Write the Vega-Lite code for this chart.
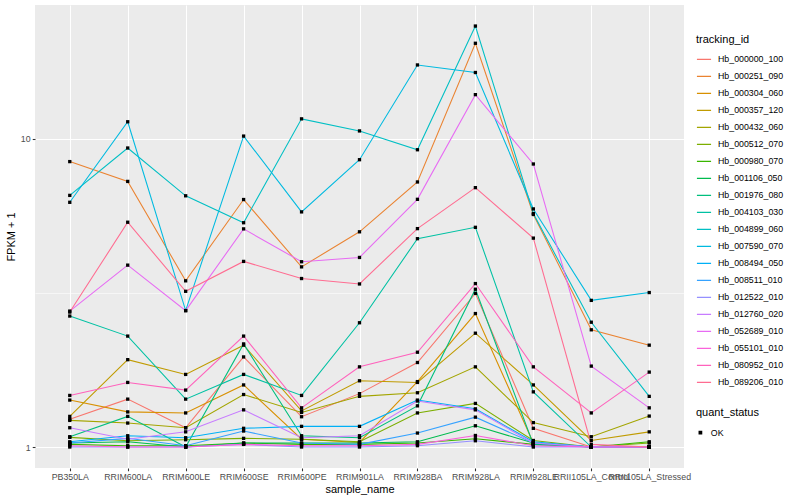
{
  "$schema": "https://vega.github.io/schema/vega-lite/v6.json",
  "width": 649,
  "height": 463,
  "autosize": {"type": "none"},
  "padding": {"left": 35, "top": 5, "right": 116, "bottom": 32},
  "background": "white",
  "config": {
    "font": "Liberation Sans",
    "view": {"fill": "#EBEBEB", "stroke": null},
    "axis": {"domain": false, "labelColor": "#4D4D4D", "labelFontSize": 8.8, "tickColor": "#333333", "tickSize": 2.75, "tickWidth": 1.07, "gridColor": "#FFFFFF", "titleFontSize": 11, "titleFontWeight": "normal", "titleColor": "#000000", "labelPadding": 2.2},
    "legend": {"titleFontSize": 11, "titleFontWeight": "normal", "labelFontSize": 8.8, "labelColor": "#000000", "titleColor": "#000000"}
  },
  "data": {"values": [
    {"tracking_id":"Hb_000000_100","sample_name":"PB350LA","FPKM":1.23,"quant_status":"OK"},
    {"tracking_id":"Hb_000000_100","sample_name":"RRIM600LA","FPKM":1.43,"quant_status":"OK"},
    {"tracking_id":"Hb_000000_100","sample_name":"RRIM600LE","FPKM":1.155,"quant_status":"OK"},
    {"tracking_id":"Hb_000000_100","sample_name":"RRIM600SE","FPKM":1.96,"quant_status":"OK"},
    {"tracking_id":"Hb_000000_100","sample_name":"RRIM600PE","FPKM":1.254,"quant_status":"OK"},
    {"tracking_id":"Hb_000000_100","sample_name":"RRIM901LA","FPKM":1.49,"quant_status":"OK"},
    {"tracking_id":"Hb_000000_100","sample_name":"RRIM928BA","FPKM":1.88,"quant_status":"OK"},
    {"tracking_id":"Hb_000000_100","sample_name":"RRIM928LA","FPKM":3.15,"quant_status":"OK"},
    {"tracking_id":"Hb_000000_100","sample_name":"RRIM928LE","FPKM":1.15,"quant_status":"OK"},
    {"tracking_id":"Hb_000000_100","sample_name":"RRII105LA_Control","FPKM":1.0,"quant_status":"OK"},
    {"tracking_id":"Hb_000000_100","sample_name":"RRII105LA_Stressed","FPKM":1.0,"quant_status":"OK"},

    {"tracking_id":"Hb_000251_090","sample_name":"PB350LA","FPKM":8.43,"quant_status":"OK"},
    {"tracking_id":"Hb_000251_090","sample_name":"RRIM600LA","FPKM":7.27,"quant_status":"OK"},
    {"tracking_id":"Hb_000251_090","sample_name":"RRIM600LE","FPKM":3.46,"quant_status":"OK"},
    {"tracking_id":"Hb_000251_090","sample_name":"RRIM600SE","FPKM":6.35,"quant_status":"OK"},
    {"tracking_id":"Hb_000251_090","sample_name":"RRIM600PE","FPKM":3.84,"quant_status":"OK"},
    {"tracking_id":"Hb_000251_090","sample_name":"RRIM901LA","FPKM":4.99,"quant_status":"OK"},
    {"tracking_id":"Hb_000251_090","sample_name":"RRIM928BA","FPKM":7.24,"quant_status":"OK"},
    {"tracking_id":"Hb_000251_090","sample_name":"RRIM928LA","FPKM":20.4,"quant_status":"OK"},
    {"tracking_id":"Hb_000251_090","sample_name":"RRIM928LE","FPKM":5.68,"quant_status":"OK"},
    {"tracking_id":"Hb_000251_090","sample_name":"RRII105LA_Control","FPKM":2.40,"quant_status":"OK"},
    {"tracking_id":"Hb_000251_090","sample_name":"RRII105LA_Stressed","FPKM":2.14,"quant_status":"OK"},

    {"tracking_id":"Hb_000304_060","sample_name":"PB350LA","FPKM":1.42,"quant_status":"OK"},
    {"tracking_id":"Hb_000304_060","sample_name":"RRIM600LA","FPKM":1.30,"quant_status":"OK"},
    {"tracking_id":"Hb_000304_060","sample_name":"RRIM600LE","FPKM":1.29,"quant_status":"OK"},
    {"tracking_id":"Hb_000304_060","sample_name":"RRIM600SE","FPKM":1.59,"quant_status":"OK"},
    {"tracking_id":"Hb_000304_060","sample_name":"RRIM600PE","FPKM":1.06,"quant_status":"OK"},
    {"tracking_id":"Hb_000304_060","sample_name":"RRIM901LA","FPKM":1.035,"quant_status":"OK"},
    {"tracking_id":"Hb_000304_060","sample_name":"RRIM928BA","FPKM":1.63,"quant_status":"OK"},
    {"tracking_id":"Hb_000304_060","sample_name":"RRIM928LA","FPKM":2.71,"quant_status":"OK"},
    {"tracking_id":"Hb_000304_060","sample_name":"RRIM928LE","FPKM":1.03,"quant_status":"OK"},
    {"tracking_id":"Hb_000304_060","sample_name":"RRII105LA_Control","FPKM":1.0,"quant_status":"OK"},
    {"tracking_id":"Hb_000304_060","sample_name":"RRII105LA_Stressed","FPKM":1.0,"quant_status":"OK"},

    {"tracking_id":"Hb_000357_120","sample_name":"PB350LA","FPKM":1.257,"quant_status":"OK"},
    {"tracking_id":"Hb_000357_120","sample_name":"RRIM600LA","FPKM":1.92,"quant_status":"OK"},
    {"tracking_id":"Hb_000357_120","sample_name":"RRIM600LE","FPKM":1.72,"quant_status":"OK"},
    {"tracking_id":"Hb_000357_120","sample_name":"RRIM600SE","FPKM":2.14,"quant_status":"OK"},
    {"tracking_id":"Hb_000357_120","sample_name":"RRIM600PE","FPKM":1.31,"quant_status":"OK"},
    {"tracking_id":"Hb_000357_120","sample_name":"RRIM901LA","FPKM":1.64,"quant_status":"OK"},
    {"tracking_id":"Hb_000357_120","sample_name":"RRIM928BA","FPKM":1.62,"quant_status":"OK"},
    {"tracking_id":"Hb_000357_120","sample_name":"RRIM928LA","FPKM":2.34,"quant_status":"OK"},
    {"tracking_id":"Hb_000357_120","sample_name":"RRIM928LE","FPKM":1.59,"quant_status":"OK"},
    {"tracking_id":"Hb_000357_120","sample_name":"RRII105LA_Control","FPKM":1.05,"quant_status":"OK"},
    {"tracking_id":"Hb_000357_120","sample_name":"RRII105LA_Stressed","FPKM":1.12,"quant_status":"OK"},

    {"tracking_id":"Hb_000432_060","sample_name":"PB350LA","FPKM":1.22,"quant_status":"OK"},
    {"tracking_id":"Hb_000432_060","sample_name":"RRIM600LA","FPKM":1.196,"quant_status":"OK"},
    {"tracking_id":"Hb_000432_060","sample_name":"RRIM600LE","FPKM":1.155,"quant_status":"OK"},
    {"tracking_id":"Hb_000432_060","sample_name":"RRIM600SE","FPKM":1.48,"quant_status":"OK"},
    {"tracking_id":"Hb_000432_060","sample_name":"RRIM600PE","FPKM":1.295,"quant_status":"OK"},
    {"tracking_id":"Hb_000432_060","sample_name":"RRIM901LA","FPKM":1.46,"quant_status":"OK"},
    {"tracking_id":"Hb_000432_060","sample_name":"RRIM928BA","FPKM":1.50,"quant_status":"OK"},
    {"tracking_id":"Hb_000432_060","sample_name":"RRIM928LA","FPKM":1.82,"quant_status":"OK"},
    {"tracking_id":"Hb_000432_060","sample_name":"RRIM928LE","FPKM":1.2,"quant_status":"OK"},
    {"tracking_id":"Hb_000432_060","sample_name":"RRII105LA_Control","FPKM":1.08,"quant_status":"OK"},
    {"tracking_id":"Hb_000432_060","sample_name":"RRII105LA_Stressed","FPKM":1.26,"quant_status":"OK"},

    {"tracking_id":"Hb_000512_070","sample_name":"PB350LA","FPKM":1.075,"quant_status":"OK"},
    {"tracking_id":"Hb_000512_070","sample_name":"RRIM600LA","FPKM":1.048,"quant_status":"OK"},
    {"tracking_id":"Hb_000512_070","sample_name":"RRIM600LE","FPKM":1.056,"quant_status":"OK"},
    {"tracking_id":"Hb_000512_070","sample_name":"RRIM600SE","FPKM":1.067,"quant_status":"OK"},
    {"tracking_id":"Hb_000512_070","sample_name":"RRIM600PE","FPKM":1.06,"quant_status":"OK"},
    {"tracking_id":"Hb_000512_070","sample_name":"RRIM901LA","FPKM":1.04,"quant_status":"OK"},
    {"tracking_id":"Hb_000512_070","sample_name":"RRIM928BA","FPKM":1.29,"quant_status":"OK"},
    {"tracking_id":"Hb_000512_070","sample_name":"RRIM928LA","FPKM":1.385,"quant_status":"OK"},
    {"tracking_id":"Hb_000512_070","sample_name":"RRIM928LE","FPKM":1.05,"quant_status":"OK"},
    {"tracking_id":"Hb_000512_070","sample_name":"RRII105LA_Control","FPKM":1.0,"quant_status":"OK"},
    {"tracking_id":"Hb_000512_070","sample_name":"RRII105LA_Stressed","FPKM":1.03,"quant_status":"OK"},

    {"tracking_id":"Hb_000980_070","sample_name":"PB350LA","FPKM":1.02,"quant_status":"OK"},
    {"tracking_id":"Hb_000980_070","sample_name":"RRIM600LA","FPKM":1.01,"quant_status":"OK"},
    {"tracking_id":"Hb_000980_070","sample_name":"RRIM600LE","FPKM":1.01,"quant_status":"OK"},
    {"tracking_id":"Hb_000980_070","sample_name":"RRIM600SE","FPKM":1.03,"quant_status":"OK"},
    {"tracking_id":"Hb_000980_070","sample_name":"RRIM600PE","FPKM":1.02,"quant_status":"OK"},
    {"tracking_id":"Hb_000980_070","sample_name":"RRIM901LA","FPKM":1.02,"quant_status":"OK"},
    {"tracking_id":"Hb_000980_070","sample_name":"RRIM928BA","FPKM":1.03,"quant_status":"OK"},
    {"tracking_id":"Hb_000980_070","sample_name":"RRIM928LA","FPKM":1.064,"quant_status":"OK"},
    {"tracking_id":"Hb_000980_070","sample_name":"RRIM928LE","FPKM":1.02,"quant_status":"OK"},
    {"tracking_id":"Hb_000980_070","sample_name":"RRII105LA_Control","FPKM":1.0,"quant_status":"OK"},
    {"tracking_id":"Hb_000980_070","sample_name":"RRII105LA_Stressed","FPKM":1.04,"quant_status":"OK"},

    {"tracking_id":"Hb_001106_050","sample_name":"PB350LA","FPKM":1.03,"quant_status":"OK"},
    {"tracking_id":"Hb_001106_050","sample_name":"RRIM600LA","FPKM":1.04,"quant_status":"OK"},
    {"tracking_id":"Hb_001106_050","sample_name":"RRIM600LE","FPKM":1.0,"quant_status":"OK"},
    {"tracking_id":"Hb_001106_050","sample_name":"RRIM600SE","FPKM":1.03,"quant_status":"OK"},
    {"tracking_id":"Hb_001106_050","sample_name":"RRIM600PE","FPKM":1.03,"quant_status":"OK"},
    {"tracking_id":"Hb_001106_050","sample_name":"RRIM901LA","FPKM":1.03,"quant_status":"OK"},
    {"tracking_id":"Hb_001106_050","sample_name":"RRIM928BA","FPKM":1.04,"quant_status":"OK"},
    {"tracking_id":"Hb_001106_050","sample_name":"RRIM928LA","FPKM":1.172,"quant_status":"OK"},
    {"tracking_id":"Hb_001106_050","sample_name":"RRIM928LE","FPKM":1.03,"quant_status":"OK"},
    {"tracking_id":"Hb_001106_050","sample_name":"RRII105LA_Control","FPKM":1.0,"quant_status":"OK"},
    {"tracking_id":"Hb_001106_050","sample_name":"RRII105LA_Stressed","FPKM":1.0,"quant_status":"OK"},

    {"tracking_id":"Hb_001976_080","sample_name":"PB350LA","FPKM":1.08,"quant_status":"OK"},
    {"tracking_id":"Hb_001976_080","sample_name":"RRIM600LA","FPKM":1.257,"quant_status":"OK"},
    {"tracking_id":"Hb_001976_080","sample_name":"RRIM600LE","FPKM":1.0,"quant_status":"OK"},
    {"tracking_id":"Hb_001976_080","sample_name":"RRIM600SE","FPKM":2.16,"quant_status":"OK"},
    {"tracking_id":"Hb_001976_080","sample_name":"RRIM600PE","FPKM":1.088,"quant_status":"OK"},
    {"tracking_id":"Hb_001976_080","sample_name":"RRIM901LA","FPKM":1.072,"quant_status":"OK"},
    {"tracking_id":"Hb_001976_080","sample_name":"RRIM928BA","FPKM":1.36,"quant_status":"OK"},
    {"tracking_id":"Hb_001976_080","sample_name":"RRIM928LA","FPKM":3.25,"quant_status":"OK"},
    {"tracking_id":"Hb_001976_080","sample_name":"RRIM928LE","FPKM":1.02,"quant_status":"OK"},
    {"tracking_id":"Hb_001976_080","sample_name":"RRII105LA_Control","FPKM":1.0,"quant_status":"OK"},
    {"tracking_id":"Hb_001976_080","sample_name":"RRII105LA_Stressed","FPKM":1.0,"quant_status":"OK"},

    {"tracking_id":"Hb_004103_030","sample_name":"PB350LA","FPKM":2.66,"quant_status":"OK"},
    {"tracking_id":"Hb_004103_030","sample_name":"RRIM600LA","FPKM":2.29,"quant_status":"OK"},
    {"tracking_id":"Hb_004103_030","sample_name":"RRIM600LE","FPKM":1.43,"quant_status":"OK"},
    {"tracking_id":"Hb_004103_030","sample_name":"RRIM600SE","FPKM":1.72,"quant_status":"OK"},
    {"tracking_id":"Hb_004103_030","sample_name":"RRIM600PE","FPKM":1.47,"quant_status":"OK"},
    {"tracking_id":"Hb_004103_030","sample_name":"RRIM901LA","FPKM":2.53,"quant_status":"OK"},
    {"tracking_id":"Hb_004103_030","sample_name":"RRIM928BA","FPKM":4.74,"quant_status":"OK"},
    {"tracking_id":"Hb_004103_030","sample_name":"RRIM928LA","FPKM":5.16,"quant_status":"OK"},
    {"tracking_id":"Hb_004103_030","sample_name":"RRIM928LE","FPKM":1.51,"quant_status":"OK"},
    {"tracking_id":"Hb_004103_030","sample_name":"RRII105LA_Control","FPKM":1.0,"quant_status":"OK"},
    {"tracking_id":"Hb_004103_030","sample_name":"RRII105LA_Stressed","FPKM":1.0,"quant_status":"OK"},

    {"tracking_id":"Hb_004899_060","sample_name":"PB350LA","FPKM":6.55,"quant_status":"OK"},
    {"tracking_id":"Hb_004899_060","sample_name":"RRIM600LA","FPKM":9.33,"quant_status":"OK"},
    {"tracking_id":"Hb_004899_060","sample_name":"RRIM600LE","FPKM":6.53,"quant_status":"OK"},
    {"tracking_id":"Hb_004899_060","sample_name":"RRIM600SE","FPKM":5.34,"quant_status":"OK"},
    {"tracking_id":"Hb_004899_060","sample_name":"RRIM600PE","FPKM":11.6,"quant_status":"OK"},
    {"tracking_id":"Hb_004899_060","sample_name":"RRIM901LA","FPKM":10.6,"quant_status":"OK"},
    {"tracking_id":"Hb_004899_060","sample_name":"RRIM928BA","FPKM":9.21,"quant_status":"OK"},
    {"tracking_id":"Hb_004899_060","sample_name":"RRIM928LA","FPKM":23.2,"quant_status":"OK"},
    {"tracking_id":"Hb_004899_060","sample_name":"RRIM928LE","FPKM":5.72,"quant_status":"OK"},
    {"tracking_id":"Hb_004899_060","sample_name":"RRII105LA_Control","FPKM":2.54,"quant_status":"OK"},
    {"tracking_id":"Hb_004899_060","sample_name":"RRII105LA_Stressed","FPKM":1.46,"quant_status":"OK"},

    {"tracking_id":"Hb_007590_070","sample_name":"PB350LA","FPKM":6.22,"quant_status":"OK"},
    {"tracking_id":"Hb_007590_070","sample_name":"RRIM600LA","FPKM":11.35,"quant_status":"OK"},
    {"tracking_id":"Hb_007590_070","sample_name":"RRIM600LE","FPKM":2.77,"quant_status":"OK"},
    {"tracking_id":"Hb_007590_070","sample_name":"RRIM600SE","FPKM":10.2,"quant_status":"OK"},
    {"tracking_id":"Hb_007590_070","sample_name":"RRIM600PE","FPKM":5.79,"quant_status":"OK"},
    {"tracking_id":"Hb_007590_070","sample_name":"RRIM901LA","FPKM":8.55,"quant_status":"OK"},
    {"tracking_id":"Hb_007590_070","sample_name":"RRIM928BA","FPKM":17.35,"quant_status":"OK"},
    {"tracking_id":"Hb_007590_070","sample_name":"RRIM928LA","FPKM":16.4,"quant_status":"OK"},
    {"tracking_id":"Hb_007590_070","sample_name":"RRIM928LE","FPKM":5.92,"quant_status":"OK"},
    {"tracking_id":"Hb_007590_070","sample_name":"RRII105LA_Control","FPKM":2.99,"quant_status":"OK"},
    {"tracking_id":"Hb_007590_070","sample_name":"RRII105LA_Stressed","FPKM":3.17,"quant_status":"OK"},

    {"tracking_id":"Hb_008494_050","sample_name":"PB350LA","FPKM":1.04,"quant_status":"OK"},
    {"tracking_id":"Hb_008494_050","sample_name":"RRIM600LA","FPKM":1.088,"quant_status":"OK"},
    {"tracking_id":"Hb_008494_050","sample_name":"RRIM600LE","FPKM":1.072,"quant_status":"OK"},
    {"tracking_id":"Hb_008494_050","sample_name":"RRIM600SE","FPKM":1.15,"quant_status":"OK"},
    {"tracking_id":"Hb_008494_050","sample_name":"RRIM600PE","FPKM":1.167,"quant_status":"OK"},
    {"tracking_id":"Hb_008494_050","sample_name":"RRIM901LA","FPKM":1.167,"quant_status":"OK"},
    {"tracking_id":"Hb_008494_050","sample_name":"RRIM928BA","FPKM":1.42,"quant_status":"OK"},
    {"tracking_id":"Hb_008494_050","sample_name":"RRIM928LA","FPKM":1.33,"quant_status":"OK"},
    {"tracking_id":"Hb_008494_050","sample_name":"RRIM928LE","FPKM":1.04,"quant_status":"OK"},
    {"tracking_id":"Hb_008494_050","sample_name":"RRII105LA_Control","FPKM":1.0,"quant_status":"OK"},
    {"tracking_id":"Hb_008494_050","sample_name":"RRII105LA_Stressed","FPKM":1.0,"quant_status":"OK"},

    {"tracking_id":"Hb_008511_010","sample_name":"PB350LA","FPKM":1.03,"quant_status":"OK"},
    {"tracking_id":"Hb_008511_010","sample_name":"RRIM600LA","FPKM":1.067,"quant_status":"OK"},
    {"tracking_id":"Hb_008511_010","sample_name":"RRIM600LE","FPKM":1.01,"quant_status":"OK"},
    {"tracking_id":"Hb_008511_010","sample_name":"RRIM600SE","FPKM":1.127,"quant_status":"OK"},
    {"tracking_id":"Hb_008511_010","sample_name":"RRIM600PE","FPKM":1.03,"quant_status":"OK"},
    {"tracking_id":"Hb_008511_010","sample_name":"RRIM901LA","FPKM":1.02,"quant_status":"OK"},
    {"tracking_id":"Hb_008511_010","sample_name":"RRIM928BA","FPKM":1.11,"quant_status":"OK"},
    {"tracking_id":"Hb_008511_010","sample_name":"RRIM928LA","FPKM":1.25,"quant_status":"OK"},
    {"tracking_id":"Hb_008511_010","sample_name":"RRIM928LE","FPKM":1.03,"quant_status":"OK"},
    {"tracking_id":"Hb_008511_010","sample_name":"RRII105LA_Control","FPKM":1.0,"quant_status":"OK"},
    {"tracking_id":"Hb_008511_010","sample_name":"RRII105LA_Stressed","FPKM":1.0,"quant_status":"OK"},

    {"tracking_id":"Hb_012522_010","sample_name":"PB350LA","FPKM":1.0,"quant_status":"OK"},
    {"tracking_id":"Hb_012522_010","sample_name":"RRIM600LA","FPKM":1.0,"quant_status":"OK"},
    {"tracking_id":"Hb_012522_010","sample_name":"RRIM600LE","FPKM":1.0,"quant_status":"OK"},
    {"tracking_id":"Hb_012522_010","sample_name":"RRIM600SE","FPKM":1.02,"quant_status":"OK"},
    {"tracking_id":"Hb_012522_010","sample_name":"RRIM600PE","FPKM":1.0,"quant_status":"OK"},
    {"tracking_id":"Hb_012522_010","sample_name":"RRIM901LA","FPKM":1.0,"quant_status":"OK"},
    {"tracking_id":"Hb_012522_010","sample_name":"RRIM928BA","FPKM":1.01,"quant_status":"OK"},
    {"tracking_id":"Hb_012522_010","sample_name":"RRIM928LA","FPKM":1.048,"quant_status":"OK"},
    {"tracking_id":"Hb_012522_010","sample_name":"RRIM928LE","FPKM":1.0,"quant_status":"OK"},
    {"tracking_id":"Hb_012522_010","sample_name":"RRII105LA_Control","FPKM":1.0,"quant_status":"OK"},
    {"tracking_id":"Hb_012522_010","sample_name":"RRII105LA_Stressed","FPKM":1.0,"quant_status":"OK"},

    {"tracking_id":"Hb_012760_020","sample_name":"PB350LA","FPKM":1.155,"quant_status":"OK"},
    {"tracking_id":"Hb_012760_020","sample_name":"RRIM600LA","FPKM":1.06,"quant_status":"OK"},
    {"tracking_id":"Hb_012760_020","sample_name":"RRIM600LE","FPKM":1.12,"quant_status":"OK"},
    {"tracking_id":"Hb_012760_020","sample_name":"RRIM600SE","FPKM":1.32,"quant_status":"OK"},
    {"tracking_id":"Hb_012760_020","sample_name":"RRIM600PE","FPKM":1.072,"quant_status":"OK"},
    {"tracking_id":"Hb_012760_020","sample_name":"RRIM901LA","FPKM":1.088,"quant_status":"OK"},
    {"tracking_id":"Hb_012760_020","sample_name":"RRIM928BA","FPKM":1.41,"quant_status":"OK"},
    {"tracking_id":"Hb_012760_020","sample_name":"RRIM928LA","FPKM":1.32,"quant_status":"OK"},
    {"tracking_id":"Hb_012760_020","sample_name":"RRIM928LE","FPKM":1.03,"quant_status":"OK"},
    {"tracking_id":"Hb_012760_020","sample_name":"RRII105LA_Control","FPKM":1.0,"quant_status":"OK"},
    {"tracking_id":"Hb_012760_020","sample_name":"RRII105LA_Stressed","FPKM":1.0,"quant_status":"OK"},

    {"tracking_id":"Hb_052689_010","sample_name":"PB350LA","FPKM":2.76,"quant_status":"OK"},
    {"tracking_id":"Hb_052689_010","sample_name":"RRIM600LA","FPKM":3.89,"quant_status":"OK"},
    {"tracking_id":"Hb_052689_010","sample_name":"RRIM600LE","FPKM":2.77,"quant_status":"OK"},
    {"tracking_id":"Hb_052689_010","sample_name":"RRIM600SE","FPKM":5.1,"quant_status":"OK"},
    {"tracking_id":"Hb_052689_010","sample_name":"RRIM600PE","FPKM":3.99,"quant_status":"OK"},
    {"tracking_id":"Hb_052689_010","sample_name":"RRIM901LA","FPKM":4.12,"quant_status":"OK"},
    {"tracking_id":"Hb_052689_010","sample_name":"RRIM928BA","FPKM":6.36,"quant_status":"OK"},
    {"tracking_id":"Hb_052689_010","sample_name":"RRIM928LA","FPKM":13.9,"quant_status":"OK"},
    {"tracking_id":"Hb_052689_010","sample_name":"RRIM928LE","FPKM":8.28,"quant_status":"OK"},
    {"tracking_id":"Hb_052689_010","sample_name":"RRII105LA_Control","FPKM":1.83,"quant_status":"OK"},
    {"tracking_id":"Hb_052689_010","sample_name":"RRII105LA_Stressed","FPKM":1.34,"quant_status":"OK"},

    {"tracking_id":"Hb_055101_010","sample_name":"PB350LA","FPKM":1.01,"quant_status":"OK"},
    {"tracking_id":"Hb_055101_010","sample_name":"RRIM600LA","FPKM":1.0,"quant_status":"OK"},
    {"tracking_id":"Hb_055101_010","sample_name":"RRIM600LE","FPKM":1.0,"quant_status":"OK"},
    {"tracking_id":"Hb_055101_010","sample_name":"RRIM600SE","FPKM":1.02,"quant_status":"OK"},
    {"tracking_id":"Hb_055101_010","sample_name":"RRIM600PE","FPKM":1.01,"quant_status":"OK"},
    {"tracking_id":"Hb_055101_010","sample_name":"RRIM901LA","FPKM":1.01,"quant_status":"OK"},
    {"tracking_id":"Hb_055101_010","sample_name":"RRIM928BA","FPKM":1.02,"quant_status":"OK"},
    {"tracking_id":"Hb_055101_010","sample_name":"RRIM928LA","FPKM":1.09,"quant_status":"OK"},
    {"tracking_id":"Hb_055101_010","sample_name":"RRIM928LE","FPKM":1.01,"quant_status":"OK"},
    {"tracking_id":"Hb_055101_010","sample_name":"RRII105LA_Control","FPKM":1.0,"quant_status":"OK"},
    {"tracking_id":"Hb_055101_010","sample_name":"RRII105LA_Stressed","FPKM":1.0,"quant_status":"OK"},

    {"tracking_id":"Hb_080952_010","sample_name":"PB350LA","FPKM":1.47,"quant_status":"OK"},
    {"tracking_id":"Hb_080952_010","sample_name":"RRIM600LA","FPKM":1.62,"quant_status":"OK"},
    {"tracking_id":"Hb_080952_010","sample_name":"RRIM600LE","FPKM":1.53,"quant_status":"OK"},
    {"tracking_id":"Hb_080952_010","sample_name":"RRIM600SE","FPKM":2.29,"quant_status":"OK"},
    {"tracking_id":"Hb_080952_010","sample_name":"RRIM600PE","FPKM":1.34,"quant_status":"OK"},
    {"tracking_id":"Hb_080952_010","sample_name":"RRIM901LA","FPKM":1.82,"quant_status":"OK"},
    {"tracking_id":"Hb_080952_010","sample_name":"RRIM928BA","FPKM":2.03,"quant_status":"OK"},
    {"tracking_id":"Hb_080952_010","sample_name":"RRIM928LA","FPKM":3.39,"quant_status":"OK"},
    {"tracking_id":"Hb_080952_010","sample_name":"RRIM928LE","FPKM":1.82,"quant_status":"OK"},
    {"tracking_id":"Hb_080952_010","sample_name":"RRII105LA_Control","FPKM":1.29,"quant_status":"OK"},
    {"tracking_id":"Hb_080952_010","sample_name":"RRII105LA_Stressed","FPKM":1.75,"quant_status":"OK"},

    {"tracking_id":"Hb_089206_010","sample_name":"PB350LA","FPKM":2.74,"quant_status":"OK"},
    {"tracking_id":"Hb_089206_010","sample_name":"RRIM600LA","FPKM":5.36,"quant_status":"OK"},
    {"tracking_id":"Hb_089206_010","sample_name":"RRIM600LE","FPKM":3.20,"quant_status":"OK"},
    {"tracking_id":"Hb_089206_010","sample_name":"RRIM600SE","FPKM":4.0,"quant_status":"OK"},
    {"tracking_id":"Hb_089206_010","sample_name":"RRIM600PE","FPKM":3.52,"quant_status":"OK"},
    {"tracking_id":"Hb_089206_010","sample_name":"RRIM901LA","FPKM":3.38,"quant_status":"OK"},
    {"tracking_id":"Hb_089206_010","sample_name":"RRIM928BA","FPKM":5.11,"quant_status":"OK"},
    {"tracking_id":"Hb_089206_010","sample_name":"RRIM928LA","FPKM":6.94,"quant_status":"OK"},
    {"tracking_id":"Hb_089206_010","sample_name":"RRIM928LE","FPKM":4.76,"quant_status":"OK"},
    {"tracking_id":"Hb_089206_010","sample_name":"RRII105LA_Control","FPKM":1.02,"quant_status":"OK"},
    {"tracking_id":"Hb_089206_010","sample_name":"RRII105LA_Stressed","FPKM":1.0,"quant_status":"OK"}
  ]},
  "encoding": {
    "x": {
      "field": "sample_name", "type": "nominal", "title": "sample_name",
      "sort": ["PB350LA","RRIM600LA","RRIM600LE","RRIM600SE","RRIM600PE","RRIM901LA","RRIM928BA","RRIM928LA","RRIM928LE","RRII105LA_Control","RRII105LA_Stressed"],
      "scale": {"type": "point", "padding": 0.6},
      "axis": {"labelAngle": 0, "grid": true, "gridWidth": 1.07, "titlePadding": 2, "labelOverlap": false}
    },
    "y": {
      "field": "FPKM", "type": "quantitative", "title": "FPKM + 1",
      "scale": {"type": "log", "domain": [0.855, 27.15], "nice": false, "zero": false},
      "axis": {
        "values": [1, 3.1623, 10],
        "labelExpr": "datum.value < 2 ? '1' : (datum.value > 5 ? '10' : '')",
        "grid": true,
        "gridWidth": {"condition": {"test": "datum.value > 2 && datum.value < 5", "value": 0.55}, "value": 1.07},
        "tickColor": {"condition": {"test": "datum.value > 2 && datum.value < 5", "value": "transparent"}, "value": "#333333"},
        "titlePadding": 4,
        "labelOverlap": false
      }
    }
  },
  "layer": [
    {
      "mark": {"type": "line", "strokeWidth": 1.07},
      "encoding": {
        "color": {
          "field": "tracking_id", "type": "nominal", "title": "tracking_id",
          "scale": {
            "domain": ["Hb_000000_100","Hb_000251_090","Hb_000304_060","Hb_000357_120","Hb_000432_060","Hb_000512_070","Hb_000980_070","Hb_001106_050","Hb_001976_080","Hb_004103_030","Hb_004899_060","Hb_007590_070","Hb_008494_050","Hb_008511_010","Hb_012522_010","Hb_012760_020","Hb_052689_010","Hb_055101_010","Hb_080952_010","Hb_089206_010"],
            "range": ["#F8766D","#EA8331","#D89000","#C09B00","#A3A500","#7CAE00","#39B600","#00BB4E","#00BF7D","#00C1A3","#00BFC4","#00BAE0","#00B0F6","#35A2FF","#9590FF","#C77CFF","#E76BF3","#FA62DB","#FF62BC","#FF6C91"]
          },
          "legend": {"orient": "none", "legendX": 661, "legendY": 29, "symbolType": "stroke", "symbolSize": 200, "symbolStrokeWidth": 1.07, "clipHeight": 16.7, "rowPadding": 0, "titlePadding": 6, "labelOffset": 6}
        }
      }
    },
    {
      "mark": {"type": "point", "filled": true, "color": "black", "size": 11, "opacity": 1},
      "encoding": {
        "shape": {
          "field": "quant_status", "type": "nominal", "title": "quant_status",
          "scale": {"range": ["square"]},
          "legend": {"orient": "none", "legendX": 661, "legendY": 402, "symbolSize": 14, "symbolFillColor": "black", "clipHeight": 17.3, "titlePadding": 6, "labelOffset": 6}
        }
      }
    }
  ]
}
